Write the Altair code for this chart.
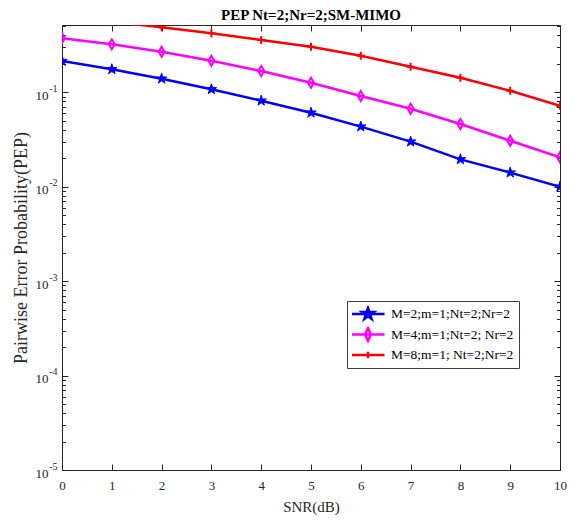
import altair as alt
import pandas as pd

# ---- data ----
snr = [0, 1, 2, 3, 4, 5, 6, 7, 8, 9, 10]
pep_m2 = [0.2145, 0.1752, 0.1393, 0.1076, 0.0815, 0.0608, 0.0433, 0.0300, 0.0195, 0.0141, 0.0100]
pep_m4 = [0.373, 0.322, 0.269, 0.216, 0.168, 0.1264, 0.0914, 0.0670, 0.0462, 0.0307, 0.0205]
pep_m8 = [0.63, 0.558, 0.488, 0.4215, 0.358, 0.304, 0.244, 0.1866, 0.1428, 0.1039, 0.0721]
series_labels = ["M=2;m=1;Nt=2;Nr=2", "M=4;m=1;Nt=2; Nr=2", "M=8;m=1; Nt=2;Nr=2"]
series_colors = ["#0000ff", "#ff00ff", "#ff0000"]
series_fills = ["#0000ff", "transparent", "transparent"]
x_tick_values = [0, 1, 2, 3, 4, 5, 6, 7, 8, 9, 10]
y_major_ticks = [1e-5, 1e-4, 1e-3, 1e-2, 1e-1]
y_minor_ticks = [k * 10.0 ** d for d in range(-5, -1) for k in range(2, 10)] + [0.2, 0.3, 0.4, 0.5]

rows = []
for lab, vals in zip(series_labels, [pep_m2, pep_m4, pep_m8]):
    for s, p in zip(snr, vals):
        rows.append({"snr": s, "pep": p, "series": lab})
df = pd.DataFrame(rows)

FONT = "Liberation Serif"
AX = "#262626"

STAR = "M0,-1L0.225,-0.309L0.951,-0.309L0.363,0.118L0.588,0.809L0,0.382L-0.588,0.809L-0.363,0.118L-0.951,-0.309L-0.225,-0.309Z"
DIAMOND = "M0,-1L0.6,0L0,1L-0.6,0Z"
PLUS = "M-1,0L1,0M0,-1L0,1"
LEG_LINE = "M-2.55,0L2.55,0"
legend_shapes = [
    LEG_LINE + "M0,-0.95L0.214,-0.294L0.904,-0.294L0.345,0.112L0.559,0.769L0,0.363L-0.559,0.769L-0.345,0.112L-0.904,-0.294L-0.214,-0.294Z",
    LEG_LINE + "M0,-1L0.45,0L0,1L-0.45,0Z",
    LEG_LINE + "M0,-0.5L0,0.5",
]

xs = alt.Scale(domain=[0, 10], nice=False, zero=False)
ys = alt.Scale(type="log", domain=[1e-5, 0.516], nice=False)


def xenc(axis):
    return alt.X("snr:Q", scale=xs, axis=axis)


def yenc(axis):
    return alt.Y("pep:Q", scale=ys, axis=axis)


def tick_axis(orient, values, size):
    return alt.Axis(orient=orient, values=values, labels=False, domain=False, grid=False,
                    title="", tickColor=AX, tickWidth=1, tickSize=size, offset=-size)


ax_x_lab = alt.Axis(orient="bottom", values=x_tick_values, ticks=False, domain=False, grid=False,
                    labelFont=FONT, labelFontSize=13, labelColor=AX, labelPadding=9,
                    labelFlush=False, title="SNR(dB)", titleFont=FONT, titleFontSize=15,
                    titleFontWeight="normal", titleColor=AX, titlePadding=7)
ax_y_10 = alt.Axis(orient="left", values=y_major_ticks, ticks=False, domain=False, grid=False,
                   labelExpr="'10'", labelFont=FONT, labelFontSize=13, labelColor=AX,
                   labelPadding=14, labelBaseline="middle", labelOffset=3,
                   title="Pairwise Error Probability(PEP)", titleFont=FONT, titleFontSize=18,
                   titleFontWeight="normal", titleColor=AX, titlePadding=5)
ax_y_exp = alt.Axis(orient="left", values=y_major_ticks, ticks=False, domain=False, grid=False,
                    labelExpr="'-' + round(-log(datum.value) / LN10)", labelFont=FONT,
                    labelFontSize=10, labelColor=AX, labelPadding=5, labelBaseline="middle",
                    labelOffset=-4, title="")


def sel(i):
    return alt.Chart(df).transform_filter(alt.datum.series == series_labels[i])


blue_line = sel(0).mark_line(color=series_colors[0], strokeWidth=2.5, clip=True).encode(
    x=xenc(ax_x_lab), y=yenc(ax_y_10))
blue_pts = sel(0).mark_point(shape=STAR, size=121, fill=series_colors[0], stroke=series_colors[0],
                             strokeWidth=1, strokeJoin="round", opacity=1, filled=True, clip=True).encode(
    x=xenc(tick_axis("bottom", x_tick_values, 6)), y=yenc(ax_y_exp))
mag_line = sel(1).mark_line(color=series_colors[1], strokeWidth=2.5, clip=True).encode(
    x=xenc(tick_axis("top", x_tick_values, 6)), y=yenc(tick_axis("left", y_major_ticks, 6)))
mag_pts = sel(1).mark_point(shape=DIAMOND, size=100, color=series_colors[1], strokeWidth=2,
                            opacity=1, filled=False, clip=True).encode(
    x=xenc(None), y=yenc(tick_axis("right", y_major_ticks, 6)))
red_line = sel(2).mark_line(color=series_colors[2], strokeWidth=2.5, clip=True).encode(
    x=xenc(None), y=yenc(tick_axis("left", y_minor_ticks, 3.5)))
red_pts = sel(2).mark_point(shape=PLUS, size=64, color=series_colors[2], strokeWidth=2,
                            opacity=1, filled=False, clip=True).encode(
    x=xenc(None), y=yenc(tick_axis("right", y_minor_ticks, 3.5)))

leg = alt.Legend(orient="none", legendX=285, legendY=276, title=None, labelFont=FONT,
                 labelFontSize=13.5, labelColor="black", labelLimit=300, symbolSize=169,
                 symbolStrokeWidth=2.5, symbolOpacity=1, symbolOffset=8, labelOffset=15,
                 clipHeight=16, rowPadding=4.5, padding=5, strokeColor="#404040",
                 fillColor="white")

legend_layer = alt.Chart(df).mark_point(opacity=0, clip=True).encode(
    x=xenc(None), y=yenc(None),
    shape=alt.Shape("series:N", scale=alt.Scale(domain=series_labels, range=legend_shapes), legend=leg),
    stroke=alt.Stroke("series:N", scale=alt.Scale(domain=series_labels, range=series_colors), legend=leg),
    fill=alt.Fill("series:N", scale=alt.Scale(domain=series_labels, range=series_fills), legend=leg),
)

chart = alt.layer(blue_line, mag_line, red_line, blue_pts, mag_pts, red_pts, legend_layer).resolve_axis(
    x="independent", y="independent"
).properties(
    width=498, height=445,
    autosize=alt.AutoSizeParams(type="none"),
    padding={"left": 54, "top": 17, "right": 7, "bottom": 46},
    title=alt.Title("PEP Nt=2;Nr=2;SM-MIMO", font=FONT, fontSize=15, fontWeight="bold",
                    color="black", offset=2, anchor="middle"),
).configure_view(stroke=AX, strokeWidth=1)

chart.save("out.html", embed_options={"renderer": "svg", "actions": False})
